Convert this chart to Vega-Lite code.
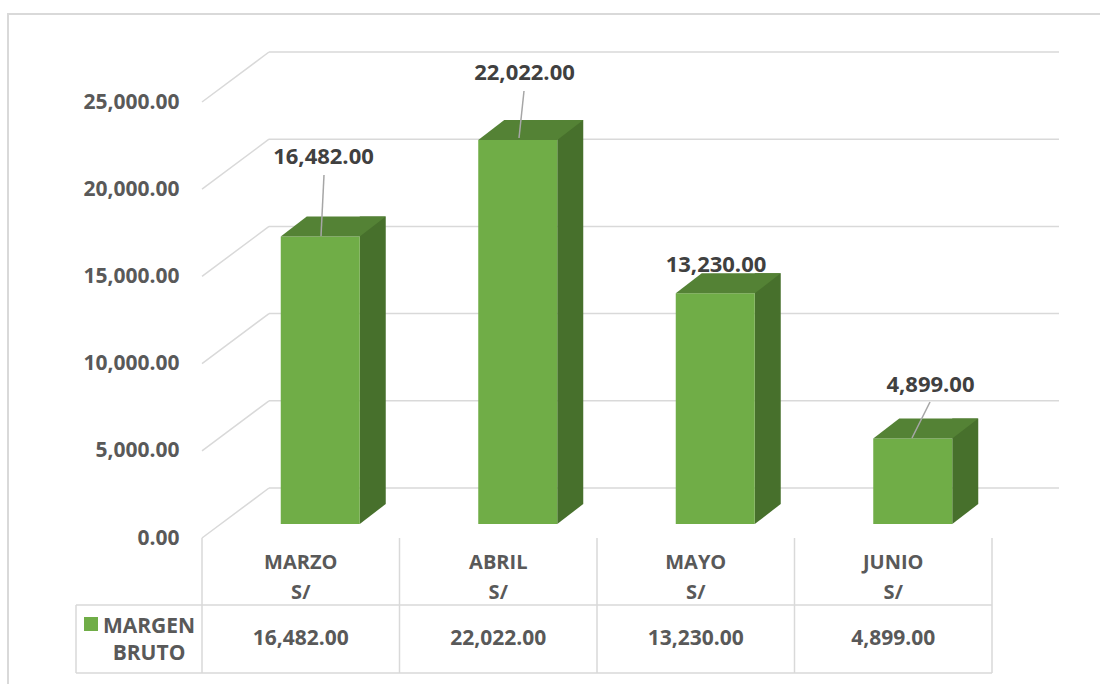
{
  "$schema": "https://vega.github.io/schema/vega-lite/v6.json",
  "width": 1102,
  "height": 680,
  "autosize": {"type": "none"},
  "padding": {"left": 8, "top": 14, "right": -10, "bottom": -10},
  "background": "white",
  "config": {
    "view": {"stroke": "#d9d9d9", "strokeWidth": 2},
    "font": "Open Sans",
    "text": {"font": "Open Sans", "fontWeight": "bold"}
  },
  "datasets": {
    "meses": [
      {"mes": "MARZO", "serie": "MARGEN BRUTO", "valor": 16482},
      {"mes": "ABRIL", "serie": "MARGEN BRUTO", "valor": 22022},
      {"mes": "MAYO", "serie": "MARGEN BRUTO", "valor": 13230},
      {"mes": "JUNIO", "serie": "MARGEN BRUTO", "valor": 4899}
    ],
    "ticks": [{"v": 0}, {"v": 5000}, {"v": 10000}, {"v": 15000}, {"v": 20000}, {"v": 25000}]
  },
  "resolve": {"scale": {"x": "independent"}, "axis": {"x": "independent"}},
  "layer": [
    {
      "layer": [
        {
          "data": {"name": "ticks"},
          "mark": {"type": "rule", "color": "#d9d9d9", "strokeWidth": 1.5, "xOffset": 67, "x2Offset": 67, "yOffset": -50},
          "encoding": {
            "x": {"datum": 0, "type": "quantitative", "scale": {"domain": [0, 1], "range": [194, 984]}, "axis": null},
            "x2": {"datum": 1},
            "y": {"field": "v", "type": "quantitative", "title": null,
                  "scale": {"domain": [0, 25000], "range": [524, 88], "nice": false, "zero": false},
                  "axis": {"values": [0, 5000, 10000, 15000, 20000, 25000], "format": ",.2f", "grid": false, "domain": false, "ticks": false,
                           "labelPadding": 0, "offset": -171, "labelFont": "Open Sans", "labelFontWeight": "bold", "labelFontSize": 21, "labelColor": "#595959", "title": null}}
          }
        },
        {
          "data": {"name": "ticks"},
          "mark": {"type": "rule", "color": "#d9d9d9", "strokeWidth": 1.5, "x2Offset": 67, "y2Offset": -50},
          "encoding": {
            "x": {"datum": 0, "type": "quantitative"},
            "x2": {"datum": 0},
            "y": {"field": "v", "type": "quantitative", "title": null},
            "y2": {"field": "v"}
          }
        },
        {
          "data": {"values": [{}]},
          "mark": {"type": "rule", "color": "#d9d9d9", "strokeWidth": 1.5, "y2Offset": 135},
          "encoding": {
            "x": {"datum": 1, "type": "quantitative"},
            "y": {"datum": 0, "type": "quantitative"},
            "y2": {"datum": 0}
          }
        },
        {
          "data": {"values": [{}]},
          "mark": {"type": "rule", "color": "#d9d9d9", "strokeWidth": 1.5, "xOffset": -126, "yOffset": 67},
          "encoding": {
            "x": {"datum": 0, "type": "quantitative"},
            "x2": {"datum": 1},
            "y": {"datum": 0, "type": "quantitative"}
          }
        },
        {
          "data": {"values": [{}]},
          "mark": {"type": "rule", "color": "#d9d9d9", "strokeWidth": 1.5, "xOffset": -126, "yOffset": 135},
          "encoding": {
            "x": {"datum": 0, "type": "quantitative"},
            "x2": {"datum": 1},
            "y": {"datum": 0, "type": "quantitative"}
          }
        },
        {
          "data": {"values": [{}]},
          "mark": {"type": "rule", "color": "#d9d9d9", "strokeWidth": 1.5, "xOffset": -126, "yOffset": 67, "y2Offset": 135},
          "encoding": {
            "x": {"datum": 0, "type": "quantitative"},
            "y": {"datum": 0, "type": "quantitative"},
            "y2": {"datum": 0}
          }
        },
        {
          "data": {"name": "meses"},
          "transform": [{"aggregate": [], "groupby": ["serie"]}],
          "mark": {"type": "point", "shape": "square", "size": 196, "filled": true, "opacity": 1, "strokeWidth": 0, "xOffset": -111, "yOffset": 86},
          "encoding": {
            "x": {"datum": 0, "type": "quantitative"},
            "y": {"datum": 0, "type": "quantitative"},
            "color": {"field": "serie", "type": "nominal", "scale": {"domain": ["MARGEN BRUTO"], "range": ["#70AD47"]}, "legend": null}
          }
        },
        {
          "data": {"name": "meses"},
          "transform": [{"aggregate": [], "groupby": ["serie"]}],
          "mark": {"type": "text", "lineBreak": " ", "lineHeight": 27, "align": "center", "baseline": "middle", "fontSize": 21, "color": "#595959", "xOffset": -53, "yOffset": 89},
          "encoding": {
            "x": {"datum": 0, "type": "quantitative"},
            "y": {"datum": 0, "type": "quantitative"},
            "text": {"field": "serie"}
          }
        }
      ]
    },
    {
      "data": {"name": "meses"},
      "encoding": {
        "x": {"field": "mes", "type": "nominal", "axis": null,
              "scale": {"domain": ["MARZO", "ABRIL", "MAYO", "JUNIO"], "range": [194, 984], "paddingInner": 0, "paddingOuter": 0}}
      },
      "layer": [
        {
          "mark": {"type": "bar", "width": 26, "xOffset": 72, "yOffset": -34, "y2Offset": -34, "color": "#47702C"},
          "encoding": {
            "y": {"field": "valor", "type": "quantitative", "title": null},
            "y2": {"datum": 0}
          }
        },
        {
          "mark": {"type": "point", "shape": "M0.79,0L1.31,-0.4L0.79,-0.4Z", "size": 10000, "filled": true, "opacity": 1, "strokeWidth": 0, "color": "#47702C", "xOffset": 19.5, "yOffset": -14},
          "encoding": {
            "y": {"datum": 0, "type": "quantitative"}
          }
        },
        {
          "mark": {"type": "bar", "width": 79, "xOffset": 19.5, "yOffset": -14, "y2Offset": -14},
          "encoding": {
            "y": {"field": "valor", "type": "quantitative", "title": null},
            "y2": {"datum": 0},
            "color": {"field": "serie", "type": "nominal", "legend": null}
          }
        },
        {
          "mark": {"type": "point", "shape": "M-0.79,0L0.79,0L1.31,-0.4L-0.27,-0.4Z", "size": 10000, "filled": true, "opacity": 1, "strokeWidth": 0, "color": "#548235", "xOffset": 19.5, "yOffset": -14},
          "encoding": {
            "y": {"field": "valor", "type": "quantitative", "title": null}
          }
        },
        {
          "mark": {"type": "rule", "strokeWidth": 1.5, "color": "#d9d9d9", "y2Offset": 135},
          "encoding": {
            "x": {"field": "mes", "type": "nominal", "bandPosition": 0},
            "y": {"datum": 0, "type": "quantitative"},
            "y2": {"datum": 0}
          }
        },
        {
          "mark": {"type": "text", "fontSize": 20, "color": "#595959", "baseline": "middle", "yOffset": 25},
          "encoding": {
            "y": {"datum": 0, "type": "quantitative"},
            "text": {"field": "mes"}
          }
        },
        {
          "mark": {"type": "text", "fontSize": 20, "color": "#595959", "baseline": "middle", "yOffset": 55},
          "encoding": {
            "y": {"datum": 0, "type": "quantitative"},
            "text": {"value": "S/"}
          }
        },
        {
          "mark": {"type": "text", "fontSize": 21, "color": "#595959", "baseline": "middle", "yOffset": 101},
          "encoding": {
            "y": {"datum": 0, "type": "quantitative"},
            "text": {"field": "valor", "format": ",.2f"}
          }
        },
        {
          "transform": [{"filter": "datum.mes === 'MARZO'"}],
          "mark": {"type": "rule", "strokeWidth": 1.5, "color": "#a6a6a6", "xOffset": 20.25, "yOffset": -14.5, "x2Offset": 23.25, "y2Offset": -75.5},
          "encoding": {
            "x2": {"field": "mes"},
            "y": {"field": "valor", "type": "quantitative", "title": null},
            "y2": {"field": "valor"}
          }
        },
        {
          "transform": [{"filter": "datum.mes === 'ABRIL'"}],
          "mark": {"type": "rule", "strokeWidth": 1.5, "color": "#a6a6a6", "xOffset": 20.75, "yOffset": -15.9, "x2Offset": 25.75, "y2Offset": -62.9},
          "encoding": {
            "x2": {"field": "mes"},
            "y": {"field": "valor", "type": "quantitative", "title": null},
            "y2": {"field": "valor"}
          }
        },
        {
          "transform": [{"filter": "datum.mes === 'JUNIO'"}],
          "mark": {"type": "rule", "strokeWidth": 1.5, "color": "#a6a6a6", "xOffset": 18.75, "yOffset": -14.6, "x2Offset": 36.75, "y2Offset": -50.6},
          "encoding": {
            "x2": {"field": "mes"},
            "y": {"field": "valor", "type": "quantitative", "title": null},
            "y2": {"field": "valor"}
          }
        },
        {
          "transform": [{"filter": "datum.mes === 'MARZO'"}],
          "mark": {"type": "text", "fontSize": 22, "color": "#404040", "baseline": "middle", "dx": 22.75, "dy": -93.5},
          "encoding": {
            "y": {"field": "valor", "type": "quantitative", "title": null},
            "text": {"field": "valor", "format": ",.2f"}
          }
        },
        {
          "transform": [{"filter": "datum.mes === 'ABRIL'"}],
          "mark": {"type": "text", "fontSize": 22, "color": "#404040", "baseline": "middle", "dx": 26.25, "dy": -80.9},
          "encoding": {
            "y": {"field": "valor", "type": "quantitative", "title": null},
            "text": {"field": "valor", "format": ",.2f"}
          }
        },
        {
          "transform": [{"filter": "datum.mes === 'MAYO'"}],
          "mark": {"type": "text", "fontSize": 22, "color": "#404040", "baseline": "middle", "dx": 20.25, "dy": -42.3},
          "encoding": {
            "y": {"field": "valor", "type": "quantitative", "title": null},
            "text": {"field": "valor", "format": ",.2f"}
          }
        },
        {
          "transform": [{"filter": "datum.mes === 'JUNIO'"}],
          "mark": {"type": "text", "fontSize": 22, "color": "#404040", "baseline": "middle", "dx": 37.25, "dy": -67.6},
          "encoding": {
            "y": {"field": "valor", "type": "quantitative", "title": null},
            "text": {"field": "valor", "format": ",.2f"}
          }
        }
      ]
    }
  ]
}
